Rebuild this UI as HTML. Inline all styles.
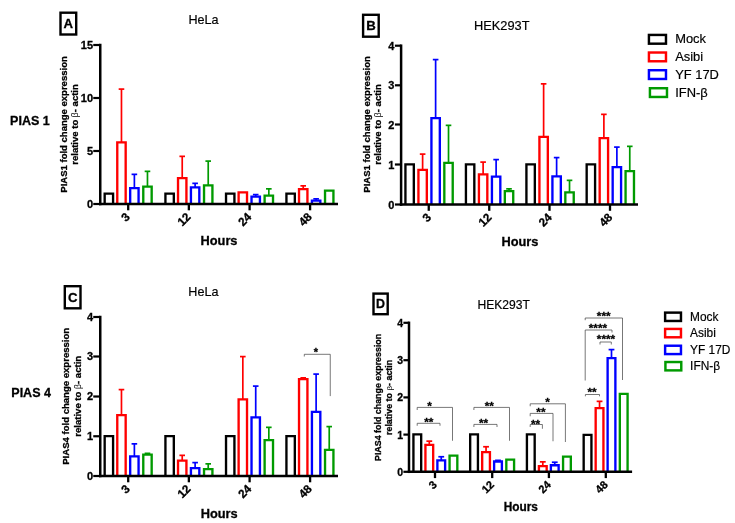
<!DOCTYPE html>
<html lang="en">
<head>
<meta charset="utf-8">
<title>PIAS1 / PIAS4 fold change expression</title>
<style>
html,body{margin:0;padding:0;background:#ffffff;}
body{width:735px;height:523px;overflow:hidden;font-family:"Liberation Sans",sans-serif;}
svg{display:block;will-change:transform;}
text{font-family:"Liberation Sans",sans-serif;}
</style>
</head>
<body>
<svg width="735" height="523" viewBox="0 0 735 523" font-family='"Liberation Sans", sans-serif'>
<rect x="0" y="0" width="735" height="523" fill="#fff"/>
<path d="M104.67 204V193.68H113.08V204" fill="#fff" stroke="#000000" stroke-width="2.35" stroke-linejoin="miter"/>
<line x1="121.47" y1="142.25" x2="121.47" y2="89.1" stroke="#ff0000" stroke-width="1.7" stroke-linecap="butt"/>
<line x1="118.67" y1="89.1" x2="124.27" y2="89.1" stroke="#ff0000" stroke-width="1.7" stroke-linecap="butt"/>
<path d="M117.27 204V142.43H125.67V204" fill="#fff" stroke="#ff0000" stroke-width="2.35" stroke-linejoin="miter"/>
<line x1="134.38" y1="188" x2="134.38" y2="174.35" stroke="#0000ff" stroke-width="1.7" stroke-linecap="butt"/>
<line x1="131.57" y1="174.35" x2="137.18" y2="174.35" stroke="#0000ff" stroke-width="1.7" stroke-linecap="butt"/>
<path d="M130.18 204V188.18H138.57V204" fill="#fff" stroke="#0000ff" stroke-width="2.35" stroke-linejoin="miter"/>
<line x1="147.47" y1="186.5" x2="147.47" y2="171.35" stroke="#009a00" stroke-width="1.7" stroke-linecap="butt"/>
<line x1="144.67" y1="171.35" x2="150.28" y2="171.35" stroke="#009a00" stroke-width="1.7" stroke-linecap="butt"/>
<path d="M143.28 204V186.68H151.67V204" fill="#fff" stroke="#009a00" stroke-width="2.35" stroke-linejoin="miter"/>
<path d="M165.43 204V193.68H173.82V204" fill="#fff" stroke="#000000" stroke-width="2.35" stroke-linejoin="miter"/>
<line x1="182.22" y1="178" x2="182.22" y2="156.35" stroke="#ff0000" stroke-width="1.7" stroke-linecap="butt"/>
<line x1="179.42" y1="156.35" x2="185.03" y2="156.35" stroke="#ff0000" stroke-width="1.7" stroke-linecap="butt"/>
<path d="M178.03 204V178.18H186.42V204" fill="#fff" stroke="#ff0000" stroke-width="2.35" stroke-linejoin="miter"/>
<line x1="195.12" y1="187.25" x2="195.12" y2="183.35" stroke="#0000ff" stroke-width="1.7" stroke-linecap="butt"/>
<line x1="192.32" y1="183.35" x2="197.93" y2="183.35" stroke="#0000ff" stroke-width="1.7" stroke-linecap="butt"/>
<path d="M190.93 204V187.43H199.32V204" fill="#fff" stroke="#0000ff" stroke-width="2.35" stroke-linejoin="miter"/>
<line x1="208.22" y1="185.25" x2="208.22" y2="161.1" stroke="#009a00" stroke-width="1.7" stroke-linecap="butt"/>
<line x1="205.42" y1="161.1" x2="211.03" y2="161.1" stroke="#009a00" stroke-width="1.7" stroke-linecap="butt"/>
<path d="M204.03 204V185.43H212.42V204" fill="#fff" stroke="#009a00" stroke-width="2.35" stroke-linejoin="miter"/>
<path d="M226.03 204V193.68H234.42V204" fill="#fff" stroke="#000000" stroke-width="2.35" stroke-linejoin="miter"/>
<path d="M238.62 204V192.43H247.02V204" fill="#fff" stroke="#ff0000" stroke-width="2.35" stroke-linejoin="miter"/>
<line x1="255.72" y1="196.5" x2="255.72" y2="194.6" stroke="#0000ff" stroke-width="1.7" stroke-linecap="butt"/>
<line x1="252.92" y1="194.6" x2="258.52" y2="194.6" stroke="#0000ff" stroke-width="1.7" stroke-linecap="butt"/>
<path d="M251.53 204V196.68H259.93V204" fill="#fff" stroke="#0000ff" stroke-width="2.35" stroke-linejoin="miter"/>
<line x1="268.82" y1="195.5" x2="268.82" y2="188.85" stroke="#009a00" stroke-width="1.7" stroke-linecap="butt"/>
<line x1="266.02" y1="188.85" x2="271.62" y2="188.85" stroke="#009a00" stroke-width="1.7" stroke-linecap="butt"/>
<path d="M264.62 204V195.68H273.02V204" fill="#fff" stroke="#009a00" stroke-width="2.35" stroke-linejoin="miter"/>
<path d="M286.43 204V193.68H294.82V204" fill="#fff" stroke="#000000" stroke-width="2.35" stroke-linejoin="miter"/>
<line x1="303.23" y1="189" x2="303.23" y2="185.85" stroke="#ff0000" stroke-width="1.7" stroke-linecap="butt"/>
<line x1="300.43" y1="185.85" x2="306.03" y2="185.85" stroke="#ff0000" stroke-width="1.7" stroke-linecap="butt"/>
<path d="M299.03 204V189.18H307.43V204" fill="#fff" stroke="#ff0000" stroke-width="2.35" stroke-linejoin="miter"/>
<line x1="316.12" y1="200.5" x2="316.12" y2="198.85" stroke="#0000ff" stroke-width="1.7" stroke-linecap="butt"/>
<line x1="313.32" y1="198.85" x2="318.93" y2="198.85" stroke="#0000ff" stroke-width="1.7" stroke-linecap="butt"/>
<path d="M311.93 204V200.68H320.32V204" fill="#fff" stroke="#0000ff" stroke-width="2.35" stroke-linejoin="miter"/>
<path d="M325.03 204V190.68H333.43V204" fill="#fff" stroke="#009a00" stroke-width="2.35" stroke-linejoin="miter"/>
<line x1="100.25" y1="43.75" x2="100.25" y2="205.25" stroke="#000" stroke-width="2.5" stroke-linecap="butt"/>
<line x1="99" y1="204" x2="338" y2="204" stroke="#000" stroke-width="2.5" stroke-linecap="butt"/>
<line x1="93.25" y1="204" x2="100.25" y2="204" stroke="#000" stroke-width="2.2" stroke-linecap="butt"/>
<text x="93.05" y="207.66" font-size="11" font-weight="bold" stroke="#000" stroke-width="0.3" text-anchor="end" fill="#000">0</text>
<line x1="93.25" y1="151" x2="100.25" y2="151" stroke="#000" stroke-width="2.2" stroke-linecap="butt"/>
<text x="93.05" y="154.66" font-size="11" font-weight="bold" stroke="#000" stroke-width="0.3" text-anchor="end" fill="#000">5</text>
<line x1="93.25" y1="98" x2="100.25" y2="98" stroke="#000" stroke-width="2.2" stroke-linecap="butt"/>
<text x="93.05" y="101.66" font-size="11" font-weight="bold" stroke="#000" stroke-width="0.3" text-anchor="end" fill="#000">10</text>
<line x1="93.25" y1="45" x2="100.25" y2="45" stroke="#000" stroke-width="2.2" stroke-linecap="butt"/>
<text x="93.05" y="48.66" font-size="11" font-weight="bold" stroke="#000" stroke-width="0.3" text-anchor="end" fill="#000">15</text>
<line x1="128.2" y1="204" x2="128.2" y2="210.3" stroke="#000" stroke-width="2.3" stroke-linecap="butt"/>
<text x="130.7" y="217.6" font-size="11.7" font-weight="bold" stroke="#000" stroke-width="0.3" text-anchor="end" fill="#000" transform="rotate(-45 130.7 217.6)">3</text>
<line x1="188.85" y1="204" x2="188.85" y2="210.3" stroke="#000" stroke-width="2.3" stroke-linecap="butt"/>
<text x="191.35" y="217.6" font-size="11.7" font-weight="bold" stroke="#000" stroke-width="0.3" text-anchor="end" fill="#000" transform="rotate(-45 191.35 217.6)">12</text>
<line x1="249.6" y1="204" x2="249.6" y2="210.3" stroke="#000" stroke-width="2.3" stroke-linecap="butt"/>
<text x="252.1" y="217.6" font-size="11.7" font-weight="bold" stroke="#000" stroke-width="0.3" text-anchor="end" fill="#000" transform="rotate(-45 252.1 217.6)">24</text>
<line x1="310.1" y1="204" x2="310.1" y2="210.3" stroke="#000" stroke-width="2.3" stroke-linecap="butt"/>
<text x="312.6" y="217.6" font-size="11.7" font-weight="bold" stroke="#000" stroke-width="0.3" text-anchor="end" fill="#000" transform="rotate(-45 312.6 217.6)">48</text>
<text x="203.5" y="24.4" font-size="12.6" stroke="#000" stroke-width="0.18" text-anchor="middle" fill="#000">HeLa</text>
<text x="219" y="245.4" font-size="12.8" font-weight="bold" stroke="#000" stroke-width="0.3" text-anchor="middle" fill="#000">Hours</text>
<text x="67.1" y="124.45" font-size="9.53" font-weight="bold" stroke="#000" stroke-width="0.3" text-anchor="middle" fill="#000" transform="rotate(-90 67.1 124.45)">PIAS1 fold change expression</text>
<text x="78.3" y="124.45" font-size="9.53" font-weight="bold" stroke="#000" stroke-width="0.3" text-anchor="middle" transform="rotate(-90 78.3 124.45)">relative to <tspan font-weight="normal" stroke="none" font-size="8.58">&#946;</tspan>- actin</text>
<rect x="60.5" y="12.7" width="15.7" height="21.8" fill="#fff" stroke="#000" stroke-width="2.4"/>
<text x="68.35" y="27.95" font-size="13.2" font-weight="bold" stroke="#000" stroke-width="0.3" text-anchor="middle" fill="#000">A</text>
<path d="M405.43 204.5V164.43H413.82V204.5" fill="#fff" stroke="#000000" stroke-width="2.35" stroke-linejoin="miter"/>
<line x1="422.62" y1="169.75" x2="422.62" y2="154.1" stroke="#ff0000" stroke-width="1.7" stroke-linecap="butt"/>
<line x1="419.82" y1="154.1" x2="425.43" y2="154.1" stroke="#ff0000" stroke-width="1.7" stroke-linecap="butt"/>
<path d="M418.43 204.5V169.93H426.82V204.5" fill="#fff" stroke="#ff0000" stroke-width="2.35" stroke-linejoin="miter"/>
<line x1="435.62" y1="118" x2="435.62" y2="59.6" stroke="#0000ff" stroke-width="1.7" stroke-linecap="butt"/>
<line x1="432.82" y1="59.6" x2="438.43" y2="59.6" stroke="#0000ff" stroke-width="1.7" stroke-linecap="butt"/>
<path d="M431.43 204.5V118.17H439.82V204.5" fill="#fff" stroke="#0000ff" stroke-width="2.35" stroke-linejoin="miter"/>
<line x1="448.52" y1="162.75" x2="448.52" y2="125.35" stroke="#009a00" stroke-width="1.7" stroke-linecap="butt"/>
<line x1="445.72" y1="125.35" x2="451.32" y2="125.35" stroke="#009a00" stroke-width="1.7" stroke-linecap="butt"/>
<path d="M444.32 204.5V162.93H452.72V204.5" fill="#fff" stroke="#009a00" stroke-width="2.35" stroke-linejoin="miter"/>
<path d="M465.93 204.5V164.43H474.32V204.5" fill="#fff" stroke="#000000" stroke-width="2.35" stroke-linejoin="miter"/>
<line x1="483.12" y1="174.25" x2="483.12" y2="162.1" stroke="#ff0000" stroke-width="1.7" stroke-linecap="butt"/>
<line x1="480.32" y1="162.1" x2="485.93" y2="162.1" stroke="#ff0000" stroke-width="1.7" stroke-linecap="butt"/>
<path d="M478.93 204.5V174.43H487.32V204.5" fill="#fff" stroke="#ff0000" stroke-width="2.35" stroke-linejoin="miter"/>
<line x1="496.12" y1="176.5" x2="496.12" y2="159.6" stroke="#0000ff" stroke-width="1.7" stroke-linecap="butt"/>
<line x1="493.32" y1="159.6" x2="498.93" y2="159.6" stroke="#0000ff" stroke-width="1.7" stroke-linecap="butt"/>
<path d="M491.93 204.5V176.68H500.32V204.5" fill="#fff" stroke="#0000ff" stroke-width="2.35" stroke-linejoin="miter"/>
<line x1="509.02" y1="191" x2="509.02" y2="188.85" stroke="#009a00" stroke-width="1.7" stroke-linecap="butt"/>
<line x1="506.22" y1="188.85" x2="511.82" y2="188.85" stroke="#009a00" stroke-width="1.7" stroke-linecap="butt"/>
<path d="M504.82 204.5V191.18H513.23V204.5" fill="#fff" stroke="#009a00" stroke-width="2.35" stroke-linejoin="miter"/>
<path d="M526.42 204.5V164.43H534.83V204.5" fill="#fff" stroke="#000000" stroke-width="2.35" stroke-linejoin="miter"/>
<line x1="543.62" y1="136.75" x2="543.62" y2="83.85" stroke="#ff0000" stroke-width="1.7" stroke-linecap="butt"/>
<line x1="540.83" y1="83.85" x2="546.42" y2="83.85" stroke="#ff0000" stroke-width="1.7" stroke-linecap="butt"/>
<path d="M539.42 204.5V136.93H547.83V204.5" fill="#fff" stroke="#ff0000" stroke-width="2.35" stroke-linejoin="miter"/>
<line x1="556.62" y1="176.25" x2="556.62" y2="157.6" stroke="#0000ff" stroke-width="1.7" stroke-linecap="butt"/>
<line x1="553.83" y1="157.6" x2="559.42" y2="157.6" stroke="#0000ff" stroke-width="1.7" stroke-linecap="butt"/>
<path d="M552.42 204.5V176.43H560.83V204.5" fill="#fff" stroke="#0000ff" stroke-width="2.35" stroke-linejoin="miter"/>
<line x1="569.52" y1="192.25" x2="569.52" y2="180.35" stroke="#009a00" stroke-width="1.7" stroke-linecap="butt"/>
<line x1="566.73" y1="180.35" x2="572.32" y2="180.35" stroke="#009a00" stroke-width="1.7" stroke-linecap="butt"/>
<path d="M565.32 204.5V192.43H573.73V204.5" fill="#fff" stroke="#009a00" stroke-width="2.35" stroke-linejoin="miter"/>
<path d="M586.67 204.5V164.43H595.08V204.5" fill="#fff" stroke="#000000" stroke-width="2.35" stroke-linejoin="miter"/>
<line x1="603.88" y1="138" x2="603.88" y2="114.35" stroke="#ff0000" stroke-width="1.7" stroke-linecap="butt"/>
<line x1="601.08" y1="114.35" x2="606.67" y2="114.35" stroke="#ff0000" stroke-width="1.7" stroke-linecap="butt"/>
<path d="M599.67 204.5V138.18H608.08V204.5" fill="#fff" stroke="#ff0000" stroke-width="2.35" stroke-linejoin="miter"/>
<line x1="616.88" y1="167" x2="616.88" y2="147.1" stroke="#0000ff" stroke-width="1.7" stroke-linecap="butt"/>
<line x1="614.08" y1="147.1" x2="619.67" y2="147.1" stroke="#0000ff" stroke-width="1.7" stroke-linecap="butt"/>
<path d="M612.67 204.5V167.18H621.08V204.5" fill="#fff" stroke="#0000ff" stroke-width="2.35" stroke-linejoin="miter"/>
<line x1="629.77" y1="171" x2="629.77" y2="146.35" stroke="#009a00" stroke-width="1.7" stroke-linecap="butt"/>
<line x1="626.98" y1="146.35" x2="632.57" y2="146.35" stroke="#009a00" stroke-width="1.7" stroke-linecap="butt"/>
<path d="M625.57 204.5V171.18H633.98V204.5" fill="#fff" stroke="#009a00" stroke-width="2.35" stroke-linejoin="miter"/>
<line x1="401.1" y1="44.45" x2="401.1" y2="205.75" stroke="#000" stroke-width="2.5" stroke-linecap="butt"/>
<line x1="399.85" y1="204.5" x2="638" y2="204.5" stroke="#000" stroke-width="2.5" stroke-linecap="butt"/>
<line x1="394.9" y1="204.5" x2="401.1" y2="204.5" stroke="#000" stroke-width="2.2" stroke-linecap="butt"/>
<text x="394.3" y="208.66" font-size="11" font-weight="bold" stroke="#000" stroke-width="0.3" text-anchor="end" fill="#000">0</text>
<line x1="394.9" y1="164.5" x2="401.1" y2="164.5" stroke="#000" stroke-width="2.2" stroke-linecap="butt"/>
<text x="394.3" y="168.66" font-size="11" font-weight="bold" stroke="#000" stroke-width="0.3" text-anchor="end" fill="#000">1</text>
<line x1="394.9" y1="124.5" x2="401.1" y2="124.5" stroke="#000" stroke-width="2.2" stroke-linecap="butt"/>
<text x="394.3" y="128.66" font-size="11" font-weight="bold" stroke="#000" stroke-width="0.3" text-anchor="end" fill="#000">2</text>
<line x1="394.9" y1="85.3" x2="401.1" y2="85.3" stroke="#000" stroke-width="2.2" stroke-linecap="butt"/>
<text x="394.3" y="89.46" font-size="11" font-weight="bold" stroke="#000" stroke-width="0.3" text-anchor="end" fill="#000">3</text>
<line x1="394.9" y1="45.7" x2="401.1" y2="45.7" stroke="#000" stroke-width="2.2" stroke-linecap="butt"/>
<text x="394.3" y="49.86" font-size="11" font-weight="bold" stroke="#000" stroke-width="0.3" text-anchor="end" fill="#000">4</text>
<line x1="428.75" y1="204.5" x2="428.75" y2="210.8" stroke="#000" stroke-width="2.3" stroke-linecap="butt"/>
<text x="431.85" y="218.1" font-size="11.7" font-weight="bold" stroke="#000" stroke-width="0.3" text-anchor="end" fill="#000" transform="rotate(-45 431.85 218.1)">3</text>
<line x1="489.25" y1="204.5" x2="489.25" y2="210.8" stroke="#000" stroke-width="2.3" stroke-linecap="butt"/>
<text x="492.35" y="218.1" font-size="11.7" font-weight="bold" stroke="#000" stroke-width="0.3" text-anchor="end" fill="#000" transform="rotate(-45 492.35 218.1)">12</text>
<line x1="549.5" y1="204.5" x2="549.5" y2="210.8" stroke="#000" stroke-width="2.3" stroke-linecap="butt"/>
<text x="552.6" y="218.1" font-size="11.7" font-weight="bold" stroke="#000" stroke-width="0.3" text-anchor="end" fill="#000" transform="rotate(-45 552.6 218.1)">24</text>
<line x1="610" y1="204.5" x2="610" y2="210.8" stroke="#000" stroke-width="2.3" stroke-linecap="butt"/>
<text x="613.1" y="218.1" font-size="11.7" font-weight="bold" stroke="#000" stroke-width="0.3" text-anchor="end" fill="#000" transform="rotate(-45 613.1 218.1)">48</text>
<text x="501.8" y="29.6" font-size="12.8" stroke="#000" stroke-width="0.18" text-anchor="middle" fill="#000">HEK293T</text>
<text x="519.95" y="246.1" font-size="12.8" font-weight="bold" stroke="#000" stroke-width="0.3" text-anchor="middle" fill="#000">Hours</text>
<text x="369.9" y="124.45" font-size="9.53" font-weight="bold" stroke="#000" stroke-width="0.3" text-anchor="middle" fill="#000" transform="rotate(-90 369.9 124.45)">PIAS1 fold change expression</text>
<text x="380.9" y="124.45" font-size="9.53" font-weight="bold" stroke="#000" stroke-width="0.3" text-anchor="middle" transform="rotate(-90 380.9 124.45)">relative to <tspan font-weight="normal" stroke="none" font-size="8.58">&#946;</tspan>- actin</text>
<rect x="363.1" y="14.8" width="15.6" height="21.9" fill="#fff" stroke="#000" stroke-width="2.4"/>
<text x="370.9" y="29.95" font-size="13.2" font-weight="bold" stroke="#000" stroke-width="0.3" text-anchor="middle" fill="#000">B</text>
<path d="M104.67 476V436.18H113.08V476" fill="#fff" stroke="#000000" stroke-width="2.35" stroke-linejoin="miter"/>
<line x1="121.47" y1="415" x2="121.47" y2="389.6" stroke="#ff0000" stroke-width="1.7" stroke-linecap="butt"/>
<line x1="118.67" y1="389.6" x2="124.27" y2="389.6" stroke="#ff0000" stroke-width="1.7" stroke-linecap="butt"/>
<path d="M117.27 476V415.18H125.67V476" fill="#fff" stroke="#ff0000" stroke-width="2.35" stroke-linejoin="miter"/>
<line x1="134.38" y1="456.25" x2="134.38" y2="443.85" stroke="#0000ff" stroke-width="1.7" stroke-linecap="butt"/>
<line x1="131.57" y1="443.85" x2="137.18" y2="443.85" stroke="#0000ff" stroke-width="1.7" stroke-linecap="butt"/>
<path d="M130.18 476V456.43H138.57V476" fill="#fff" stroke="#0000ff" stroke-width="2.35" stroke-linejoin="miter"/>
<line x1="147.47" y1="454.5" x2="147.47" y2="453.35" stroke="#009a00" stroke-width="1.7" stroke-linecap="butt"/>
<line x1="144.67" y1="453.35" x2="150.28" y2="453.35" stroke="#009a00" stroke-width="1.7" stroke-linecap="butt"/>
<path d="M143.28 476V454.68H151.67V476" fill="#fff" stroke="#009a00" stroke-width="2.35" stroke-linejoin="miter"/>
<path d="M165.43 476V436.18H173.82V476" fill="#fff" stroke="#000000" stroke-width="2.35" stroke-linejoin="miter"/>
<line x1="182.22" y1="460.5" x2="182.22" y2="455.35" stroke="#ff0000" stroke-width="1.7" stroke-linecap="butt"/>
<line x1="179.42" y1="455.35" x2="185.03" y2="455.35" stroke="#ff0000" stroke-width="1.7" stroke-linecap="butt"/>
<path d="M178.03 476V460.68H186.42V476" fill="#fff" stroke="#ff0000" stroke-width="2.35" stroke-linejoin="miter"/>
<line x1="195.12" y1="468" x2="195.12" y2="462.6" stroke="#0000ff" stroke-width="1.7" stroke-linecap="butt"/>
<line x1="192.32" y1="462.6" x2="197.93" y2="462.6" stroke="#0000ff" stroke-width="1.7" stroke-linecap="butt"/>
<path d="M190.93 476V468.18H199.32V476" fill="#fff" stroke="#0000ff" stroke-width="2.35" stroke-linejoin="miter"/>
<line x1="208.22" y1="469" x2="208.22" y2="463.85" stroke="#009a00" stroke-width="1.7" stroke-linecap="butt"/>
<line x1="205.42" y1="463.85" x2="211.03" y2="463.85" stroke="#009a00" stroke-width="1.7" stroke-linecap="butt"/>
<path d="M204.03 476V469.18H212.42V476" fill="#fff" stroke="#009a00" stroke-width="2.35" stroke-linejoin="miter"/>
<path d="M226.03 476V436.18H234.42V476" fill="#fff" stroke="#000000" stroke-width="2.35" stroke-linejoin="miter"/>
<line x1="242.82" y1="399.25" x2="242.82" y2="356.6" stroke="#ff0000" stroke-width="1.7" stroke-linecap="butt"/>
<line x1="240.02" y1="356.6" x2="245.62" y2="356.6" stroke="#ff0000" stroke-width="1.7" stroke-linecap="butt"/>
<path d="M238.62 476V399.43H247.02V476" fill="#fff" stroke="#ff0000" stroke-width="2.35" stroke-linejoin="miter"/>
<line x1="255.72" y1="417.25" x2="255.72" y2="386.1" stroke="#0000ff" stroke-width="1.7" stroke-linecap="butt"/>
<line x1="252.92" y1="386.1" x2="258.52" y2="386.1" stroke="#0000ff" stroke-width="1.7" stroke-linecap="butt"/>
<path d="M251.53 476V417.43H259.93V476" fill="#fff" stroke="#0000ff" stroke-width="2.35" stroke-linejoin="miter"/>
<line x1="268.82" y1="440" x2="268.82" y2="427.35" stroke="#009a00" stroke-width="1.7" stroke-linecap="butt"/>
<line x1="266.02" y1="427.35" x2="271.62" y2="427.35" stroke="#009a00" stroke-width="1.7" stroke-linecap="butt"/>
<path d="M264.62 476V440.18H273.02V476" fill="#fff" stroke="#009a00" stroke-width="2.35" stroke-linejoin="miter"/>
<path d="M286.43 476V436.18H294.82V476" fill="#fff" stroke="#000000" stroke-width="2.35" stroke-linejoin="miter"/>
<line x1="303.23" y1="379" x2="303.23" y2="377.85" stroke="#ff0000" stroke-width="1.7" stroke-linecap="butt"/>
<line x1="300.43" y1="377.85" x2="306.03" y2="377.85" stroke="#ff0000" stroke-width="1.7" stroke-linecap="butt"/>
<path d="M299.03 476V379.18H307.43V476" fill="#fff" stroke="#ff0000" stroke-width="2.35" stroke-linejoin="miter"/>
<line x1="316.12" y1="411.75" x2="316.12" y2="374.1" stroke="#0000ff" stroke-width="1.7" stroke-linecap="butt"/>
<line x1="313.32" y1="374.1" x2="318.93" y2="374.1" stroke="#0000ff" stroke-width="1.7" stroke-linecap="butt"/>
<path d="M311.93 476V411.93H320.32V476" fill="#fff" stroke="#0000ff" stroke-width="2.35" stroke-linejoin="miter"/>
<line x1="329.23" y1="449.75" x2="329.23" y2="426.6" stroke="#009a00" stroke-width="1.7" stroke-linecap="butt"/>
<line x1="326.43" y1="426.6" x2="332.03" y2="426.6" stroke="#009a00" stroke-width="1.7" stroke-linecap="butt"/>
<path d="M325.03 476V449.93H333.43V476" fill="#fff" stroke="#009a00" stroke-width="2.35" stroke-linejoin="miter"/>
<line x1="100.25" y1="315.75" x2="100.25" y2="477.25" stroke="#000" stroke-width="2.5" stroke-linecap="butt"/>
<line x1="99" y1="476" x2="338" y2="476" stroke="#000" stroke-width="2.5" stroke-linecap="butt"/>
<line x1="93.25" y1="476" x2="100.25" y2="476" stroke="#000" stroke-width="2.2" stroke-linecap="butt"/>
<text x="93.05" y="479.66" font-size="11" font-weight="bold" stroke="#000" stroke-width="0.3" text-anchor="end" fill="#000">0</text>
<line x1="93.25" y1="436.25" x2="100.25" y2="436.25" stroke="#000" stroke-width="2.2" stroke-linecap="butt"/>
<text x="93.05" y="439.91" font-size="11" font-weight="bold" stroke="#000" stroke-width="0.3" text-anchor="end" fill="#000">1</text>
<line x1="93.25" y1="396.5" x2="100.25" y2="396.5" stroke="#000" stroke-width="2.2" stroke-linecap="butt"/>
<text x="93.05" y="400.16" font-size="11" font-weight="bold" stroke="#000" stroke-width="0.3" text-anchor="end" fill="#000">2</text>
<line x1="93.25" y1="356.5" x2="100.25" y2="356.5" stroke="#000" stroke-width="2.2" stroke-linecap="butt"/>
<text x="93.05" y="360.16" font-size="11" font-weight="bold" stroke="#000" stroke-width="0.3" text-anchor="end" fill="#000">3</text>
<line x1="93.25" y1="317" x2="100.25" y2="317" stroke="#000" stroke-width="2.2" stroke-linecap="butt"/>
<text x="93.05" y="320.66" font-size="11" font-weight="bold" stroke="#000" stroke-width="0.3" text-anchor="end" fill="#000">4</text>
<line x1="128.2" y1="476" x2="128.2" y2="482.3" stroke="#000" stroke-width="2.3" stroke-linecap="butt"/>
<text x="130.7" y="489.6" font-size="11.7" font-weight="bold" stroke="#000" stroke-width="0.3" text-anchor="end" fill="#000" transform="rotate(-45 130.7 489.6)">3</text>
<line x1="188.85" y1="476" x2="188.85" y2="482.3" stroke="#000" stroke-width="2.3" stroke-linecap="butt"/>
<text x="191.35" y="489.6" font-size="11.7" font-weight="bold" stroke="#000" stroke-width="0.3" text-anchor="end" fill="#000" transform="rotate(-45 191.35 489.6)">12</text>
<line x1="249.6" y1="476" x2="249.6" y2="482.3" stroke="#000" stroke-width="2.3" stroke-linecap="butt"/>
<text x="252.1" y="489.6" font-size="11.7" font-weight="bold" stroke="#000" stroke-width="0.3" text-anchor="end" fill="#000" transform="rotate(-45 252.1 489.6)">24</text>
<line x1="310.1" y1="476" x2="310.1" y2="482.3" stroke="#000" stroke-width="2.3" stroke-linecap="butt"/>
<text x="312.6" y="489.6" font-size="11.7" font-weight="bold" stroke="#000" stroke-width="0.3" text-anchor="end" fill="#000" transform="rotate(-45 312.6 489.6)">48</text>
<text x="203.35" y="295.9" font-size="12.6" stroke="#000" stroke-width="0.18" text-anchor="middle" fill="#000">HeLa</text>
<text x="219.2" y="518" font-size="12.8" font-weight="bold" stroke="#000" stroke-width="0.3" text-anchor="middle" fill="#000">Hours</text>
<text x="69" y="396.3" font-size="9.55" font-weight="bold" stroke="#000" stroke-width="0.3" text-anchor="middle" fill="#000" transform="rotate(-90 69 396.3)">PIAS4 fold change expression</text>
<text x="81" y="396.3" font-size="9.55" font-weight="bold" stroke="#000" stroke-width="0.3" text-anchor="middle" transform="rotate(-90 81 396.3)">relative to <tspan font-weight="normal" stroke="none" font-size="8.6">&#946;</tspan>- actin</text>
<rect x="64.8" y="286.2" width="15.7" height="22.1" fill="#fff" stroke="#000" stroke-width="2.4"/>
<text x="72.65" y="301.5" font-size="13.2" font-weight="bold" stroke="#000" stroke-width="0.3" text-anchor="middle" fill="#000">C</text>
<polyline points="304.3,356.5 304.3,354.3 330.25,354.3 330.25,396.1" fill="none" stroke="#4a4a4a" stroke-width="0.75"/>
<text x="316" y="356.4" font-size="11" font-weight="bold" stroke="#000" stroke-width="0.3" text-anchor="middle" fill="#000">*</text>
<path d="M413.43 471.8V434.43H421.18V471.8" fill="#fff" stroke="#000000" stroke-width="2.35" stroke-linejoin="miter"/>
<line x1="429.3" y1="444.7" x2="429.3" y2="441.15" stroke="#ff0000" stroke-width="1.7" stroke-linecap="butt"/>
<line x1="426.4" y1="441.15" x2="432.2" y2="441.15" stroke="#ff0000" stroke-width="1.7" stroke-linecap="butt"/>
<path d="M425.43 471.8V444.88H433.18V471.8" fill="#fff" stroke="#ff0000" stroke-width="2.35" stroke-linejoin="miter"/>
<line x1="441.25" y1="460.2" x2="441.25" y2="456.75" stroke="#0000ff" stroke-width="1.7" stroke-linecap="butt"/>
<line x1="438.35" y1="456.75" x2="444.15" y2="456.75" stroke="#0000ff" stroke-width="1.7" stroke-linecap="butt"/>
<path d="M437.38 471.8V460.38H445.12V471.8" fill="#fff" stroke="#0000ff" stroke-width="2.35" stroke-linejoin="miter"/>
<path d="M449.57 471.8V455.57H457.32V471.8" fill="#fff" stroke="#009a00" stroke-width="2.35" stroke-linejoin="miter"/>
<path d="M470.18 471.8V434.43H477.93V471.8" fill="#fff" stroke="#000000" stroke-width="2.35" stroke-linejoin="miter"/>
<line x1="486.05" y1="451.9" x2="486.05" y2="446.75" stroke="#ff0000" stroke-width="1.7" stroke-linecap="butt"/>
<line x1="483.15" y1="446.75" x2="488.95" y2="446.75" stroke="#ff0000" stroke-width="1.7" stroke-linecap="butt"/>
<path d="M482.18 471.8V452.07H489.93V471.8" fill="#fff" stroke="#ff0000" stroke-width="2.35" stroke-linejoin="miter"/>
<line x1="498" y1="461.3" x2="498" y2="460.35" stroke="#0000ff" stroke-width="1.7" stroke-linecap="butt"/>
<line x1="495.1" y1="460.35" x2="500.9" y2="460.35" stroke="#0000ff" stroke-width="1.7" stroke-linecap="butt"/>
<path d="M494.12 471.8V461.48H501.88V471.8" fill="#fff" stroke="#0000ff" stroke-width="2.35" stroke-linejoin="miter"/>
<path d="M506.32 471.8V459.68H514.08V471.8" fill="#fff" stroke="#009a00" stroke-width="2.35" stroke-linejoin="miter"/>
<path d="M526.92 471.8V434.43H534.68V471.8" fill="#fff" stroke="#000000" stroke-width="2.35" stroke-linejoin="miter"/>
<line x1="542.8" y1="465.9" x2="542.8" y2="461.85" stroke="#ff0000" stroke-width="1.7" stroke-linecap="butt"/>
<line x1="539.9" y1="461.85" x2="545.7" y2="461.85" stroke="#ff0000" stroke-width="1.7" stroke-linecap="butt"/>
<path d="M538.92 471.8V466.07H546.68V471.8" fill="#fff" stroke="#ff0000" stroke-width="2.35" stroke-linejoin="miter"/>
<line x1="554.75" y1="465.1" x2="554.75" y2="462.25" stroke="#0000ff" stroke-width="1.7" stroke-linecap="butt"/>
<line x1="551.85" y1="462.25" x2="557.65" y2="462.25" stroke="#0000ff" stroke-width="1.7" stroke-linecap="butt"/>
<path d="M550.88 471.8V465.28H558.63V471.8" fill="#fff" stroke="#0000ff" stroke-width="2.35" stroke-linejoin="miter"/>
<path d="M563.07 471.8V456.57H570.83V471.8" fill="#fff" stroke="#009a00" stroke-width="2.35" stroke-linejoin="miter"/>
<path d="M583.67 471.8V434.93H591.43V471.8" fill="#fff" stroke="#000000" stroke-width="2.35" stroke-linejoin="miter"/>
<line x1="599.55" y1="408" x2="599.55" y2="401.35" stroke="#ff0000" stroke-width="1.7" stroke-linecap="butt"/>
<line x1="596.65" y1="401.35" x2="602.45" y2="401.35" stroke="#ff0000" stroke-width="1.7" stroke-linecap="butt"/>
<path d="M595.67 471.8V408.18H603.43V471.8" fill="#fff" stroke="#ff0000" stroke-width="2.35" stroke-linejoin="miter"/>
<line x1="611.5" y1="358" x2="611.5" y2="349.6" stroke="#0000ff" stroke-width="1.7" stroke-linecap="butt"/>
<line x1="608.6" y1="349.6" x2="614.4" y2="349.6" stroke="#0000ff" stroke-width="1.7" stroke-linecap="butt"/>
<path d="M607.62 471.8V358.18H615.38V471.8" fill="#fff" stroke="#0000ff" stroke-width="2.35" stroke-linejoin="miter"/>
<path d="M619.82 471.8V393.93H627.58V471.8" fill="#fff" stroke="#009a00" stroke-width="2.35" stroke-linejoin="miter"/>
<line x1="409" y1="321.55" x2="409" y2="473.05" stroke="#000" stroke-width="2.5" stroke-linecap="butt"/>
<line x1="407.75" y1="471.8" x2="632.1" y2="471.8" stroke="#000" stroke-width="2.5" stroke-linecap="butt"/>
<line x1="403.4" y1="471.8" x2="409" y2="471.8" stroke="#000" stroke-width="2.2" stroke-linecap="butt"/>
<text x="403.2" y="475.78" font-size="10.5" font-weight="bold" stroke="#000" stroke-width="0.3" text-anchor="end" fill="#000">0</text>
<line x1="403.4" y1="434.6" x2="409" y2="434.6" stroke="#000" stroke-width="2.2" stroke-linecap="butt"/>
<text x="403.2" y="438.58" font-size="10.5" font-weight="bold" stroke="#000" stroke-width="0.3" text-anchor="end" fill="#000">1</text>
<line x1="403.4" y1="397.4" x2="409" y2="397.4" stroke="#000" stroke-width="2.2" stroke-linecap="butt"/>
<text x="403.2" y="401.38" font-size="10.5" font-weight="bold" stroke="#000" stroke-width="0.3" text-anchor="end" fill="#000">2</text>
<line x1="403.4" y1="360.2" x2="409" y2="360.2" stroke="#000" stroke-width="2.2" stroke-linecap="butt"/>
<text x="403.2" y="364.18" font-size="10.5" font-weight="bold" stroke="#000" stroke-width="0.3" text-anchor="end" fill="#000">3</text>
<line x1="403.4" y1="322.8" x2="409" y2="322.8" stroke="#000" stroke-width="2.2" stroke-linecap="butt"/>
<text x="403.2" y="326.78" font-size="10.5" font-weight="bold" stroke="#000" stroke-width="0.3" text-anchor="end" fill="#000">4</text>
<line x1="435" y1="471.8" x2="435" y2="478.1" stroke="#000" stroke-width="2.3" stroke-linecap="butt"/>
<text x="437.7" y="485.4" font-size="11" font-weight="bold" stroke="#000" stroke-width="0.3" text-anchor="end" fill="#000" transform="rotate(-45 437.7 485.4)">3</text>
<line x1="492.2" y1="471.8" x2="492.2" y2="478.1" stroke="#000" stroke-width="2.3" stroke-linecap="butt"/>
<text x="494.9" y="485.4" font-size="11" font-weight="bold" stroke="#000" stroke-width="0.3" text-anchor="end" fill="#000" transform="rotate(-45 494.9 485.4)">12</text>
<line x1="548.9" y1="471.8" x2="548.9" y2="478.1" stroke="#000" stroke-width="2.3" stroke-linecap="butt"/>
<text x="551.6" y="485.4" font-size="11" font-weight="bold" stroke="#000" stroke-width="0.3" text-anchor="end" fill="#000" transform="rotate(-45 551.6 485.4)">24</text>
<line x1="605.8" y1="471.8" x2="605.8" y2="478.1" stroke="#000" stroke-width="2.3" stroke-linecap="butt"/>
<text x="608.5" y="485.4" font-size="11" font-weight="bold" stroke="#000" stroke-width="0.3" text-anchor="end" fill="#000" transform="rotate(-45 608.5 485.4)">48</text>
<text x="503.7" y="308.5" font-size="12.1" stroke="#000" stroke-width="0.18" text-anchor="middle" fill="#000">HEK293T</text>
<text x="520.75" y="511.3" font-size="11.85" font-weight="bold" stroke="#000" stroke-width="0.3" text-anchor="middle" fill="#000">Hours</text>
<text x="380.7" y="397.4" font-size="8.9" font-weight="bold" stroke="#000" stroke-width="0.3" text-anchor="middle" fill="#000" transform="rotate(-90 380.7 397.4)">PIAS4 fold change expression</text>
<text x="391.8" y="397.4" font-size="8.9" font-weight="bold" stroke="#000" stroke-width="0.3" text-anchor="middle" transform="rotate(-90 391.8 397.4)">relative to <tspan font-weight="normal" stroke="none" font-size="8.01">&#946;</tspan>- actin</text>
<rect x="373.5" y="293.6" width="14.2" height="20.6" fill="#fff" stroke="#000" stroke-width="2.4"/>
<text x="380.6" y="307.95" font-size="12.4" font-weight="bold" stroke="#000" stroke-width="0.3" text-anchor="middle" fill="#000">D</text>
<polyline points="417.2,410 417.2,407.4 452.5,407.4 452.5,440.75" fill="none" stroke="#4a4a4a" stroke-width="0.75"/>
<text x="429.5" y="409.6" font-size="11.8" font-weight="bold" stroke="#000" stroke-width="0.3" text-anchor="middle" fill="#000">*</text>
<polyline points="417.2,425.75 417.2,423.3 440,423.3 440,425.75" fill="none" stroke="#4a4a4a" stroke-width="0.75"/>
<text x="428.75" y="425.7" font-size="11.8" font-weight="bold" stroke="#000" stroke-width="0.3" text-anchor="middle" fill="#000">**</text>
<polyline points="473.9,410 473.9,407.4 509.5,407.4 509.5,440.75" fill="none" stroke="#4a4a4a" stroke-width="0.75"/>
<text x="489.3" y="409.6" font-size="11.8" font-weight="bold" stroke="#000" stroke-width="0.3" text-anchor="middle" fill="#000">**</text>
<polyline points="473.9,427 473.9,424.4 497,424.4 497,427" fill="none" stroke="#4a4a4a" stroke-width="0.75"/>
<text x="483.6" y="426.9" font-size="11.8" font-weight="bold" stroke="#000" stroke-width="0.3" text-anchor="middle" fill="#000">**</text>
<polyline points="530.2,406.25 530.2,403.8 565.4,403.8 565.4,442" fill="none" stroke="#4a4a4a" stroke-width="0.75"/>
<text x="547.5" y="406.4" font-size="11.8" font-weight="bold" stroke="#000" stroke-width="0.3" text-anchor="middle" fill="#000">*</text>
<polyline points="530.2,416.25 530.2,413.4 553,413.4 553,441.25" fill="none" stroke="#4a4a4a" stroke-width="0.75"/>
<text x="540.9" y="415.8" font-size="11.8" font-weight="bold" stroke="#000" stroke-width="0.3" text-anchor="middle" fill="#000">**</text>
<polyline points="530.2,427 530.2,424.5 542.4,424.5 542.4,428.75" fill="none" stroke="#4a4a4a" stroke-width="0.75"/>
<text x="535.6" y="428" font-size="11.8" font-weight="bold" stroke="#000" stroke-width="0.3" text-anchor="middle" fill="#000">**</text>
<polyline points="585.2,320.2 585.2,318 622.5,318 622.5,380" fill="none" stroke="#4a4a4a" stroke-width="0.75"/>
<text x="603.75" y="320" font-size="11.8" font-weight="bold" stroke="#000" stroke-width="0.3" text-anchor="middle" fill="#000">***</text>
<polyline points="585.2,380.5 585.2,330 612,330 612,332.5" fill="none" stroke="#4a4a4a" stroke-width="0.75"/>
<text x="597.9" y="331.8" font-size="11.8" font-weight="bold" stroke="#000" stroke-width="0.3" text-anchor="middle" fill="#000">****</text>
<polyline points="600,344.5 600,342 611.3,342 611.3,344.5" fill="none" stroke="#4a4a4a" stroke-width="0.75"/>
<text x="606" y="343.3" font-size="11.8" font-weight="bold" stroke="#000" stroke-width="0.3" text-anchor="middle" fill="#000">****</text>
<polyline points="585.4,396.3 585.4,394.5 599.5,394.5 599.5,396.3" fill="none" stroke="#4a4a4a" stroke-width="0.75"/>
<text x="592.1" y="395.8" font-size="11.8" font-weight="bold" stroke="#000" stroke-width="0.3" text-anchor="middle" fill="#000">**</text>
<text x="10.1" y="125" font-size="12.5" font-weight="bold" stroke="#000" stroke-width="0.3" text-anchor="start" fill="#000">PIAS 1</text>
<text x="11.3" y="396.6" font-size="12.5" font-weight="bold" stroke="#000" stroke-width="0.3" text-anchor="start" fill="#000">PIAS 4</text>
<rect x="648.93" y="34.93" width="17.05" height="8.75" fill="#fff" stroke="#000000" stroke-width="2.45"/>
<text x="675.2" y="43.24" font-size="12.9" stroke="#000" stroke-width="0.18" text-anchor="start" fill="#000">Mock</text>
<rect x="648.93" y="52.52" width="17.05" height="8.75" fill="#fff" stroke="#ff0000" stroke-width="2.45"/>
<text x="675.2" y="60.84" font-size="12.9" stroke="#000" stroke-width="0.18" text-anchor="start" fill="#000">Asibi</text>
<rect x="648.93" y="70.22" width="17.05" height="8.75" fill="#fff" stroke="#0000ff" stroke-width="2.45"/>
<text x="675.2" y="78.54" font-size="12.9" stroke="#000" stroke-width="0.18" text-anchor="start" fill="#000">YF 17D</text>
<rect x="649.93" y="88.22" width="17.05" height="8.75" fill="#fff" stroke="#009a00" stroke-width="2.45"/>
<text x="675.2" y="96.54" font-size="12.9" stroke="#000" stroke-width="0.18" text-anchor="start" fill="#000">IFN-&#946;</text>
<rect x="665.12" y="312.62" width="15.85" height="8.35" fill="#fff" stroke="#000000" stroke-width="2.45"/>
<text x="690.1" y="320.78" font-size="11.9" stroke="#000" stroke-width="0.18" text-anchor="start" fill="#000">Mock</text>
<rect x="665.12" y="328.93" width="15.85" height="8.35" fill="#fff" stroke="#ff0000" stroke-width="2.45"/>
<text x="690.1" y="337.08" font-size="11.9" stroke="#000" stroke-width="0.18" text-anchor="start" fill="#000">Asibi</text>
<rect x="665.12" y="345.73" width="15.85" height="8.35" fill="#fff" stroke="#0000ff" stroke-width="2.45"/>
<text x="690.1" y="353.88" font-size="11.9" stroke="#000" stroke-width="0.18" text-anchor="start" fill="#000">YF 17D</text>
<rect x="665.42" y="362.03" width="15.85" height="8.35" fill="#fff" stroke="#009a00" stroke-width="2.45"/>
<text x="690.1" y="370.18" font-size="11.9" stroke="#000" stroke-width="0.18" text-anchor="start" fill="#000">IFN-&#946;</text>
</svg>
</body>
</html>
